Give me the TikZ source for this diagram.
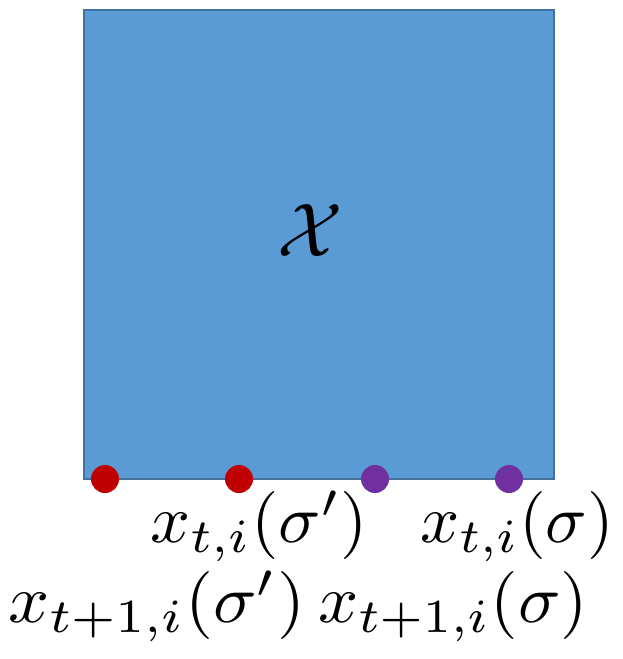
\documentclass[tikz,border=0pt]{standalone}
\usepackage{graphicx}
\definecolor{boxfill}{HTML}{5B9BD5}
\definecolor{boxline}{HTML}{41719C}
\definecolor{dotred}{HTML}{C00000}
\definecolor{dotpurple}{HTML}{7030A0}
\newcommand{\widelab}[2]{\resizebox{#1}{6.8\height}{$#2$}}
\tikzset{
  region/.style={draw=boxline, fill=boxfill, line width=2pt},
  pointdot/.style={circle, inner sep=0pt, minimum size=28pt},
  lab/.style={anchor=base west, inner sep=0pt},
}
\begin{document}
\begin{tikzpicture}[x=1pt,y=-1pt]
\useasboundingbox (0,0) rectangle (623,659);
\draw[region] (84,10) rectangle (554,479);
\node[inner sep=0pt] (X) at (310,231) {\scalebox{7.6}{$\mathcal{X}$}};
\node[pointdot, fill=dotred] (p1) at (105,479) {};
\node[pointdot, fill=dotred] (p2) at (239,479) {};
\node[pointdot, fill=dotpurple] (p3) at (375,479) {};
\node[pointdot, fill=dotpurple] (p4) at (509,479) {};
\node[lab] (l1) at (150,542) {\widelab{218pt}{x_{t,i}(\sigma')}};
\node[lab] (l2) at (420,542) {\widelab{194pt}{x_{t,i}(\sigma)}};
\node[lab] (l3) at (8,622) {\widelab{297pt}{x_{t+1,i}(\sigma')}};
\node[lab] (l4) at (318,622) {\widelab{270pt}{x_{t+1,i}(\sigma)}};
\end{tikzpicture}
\end{document}
